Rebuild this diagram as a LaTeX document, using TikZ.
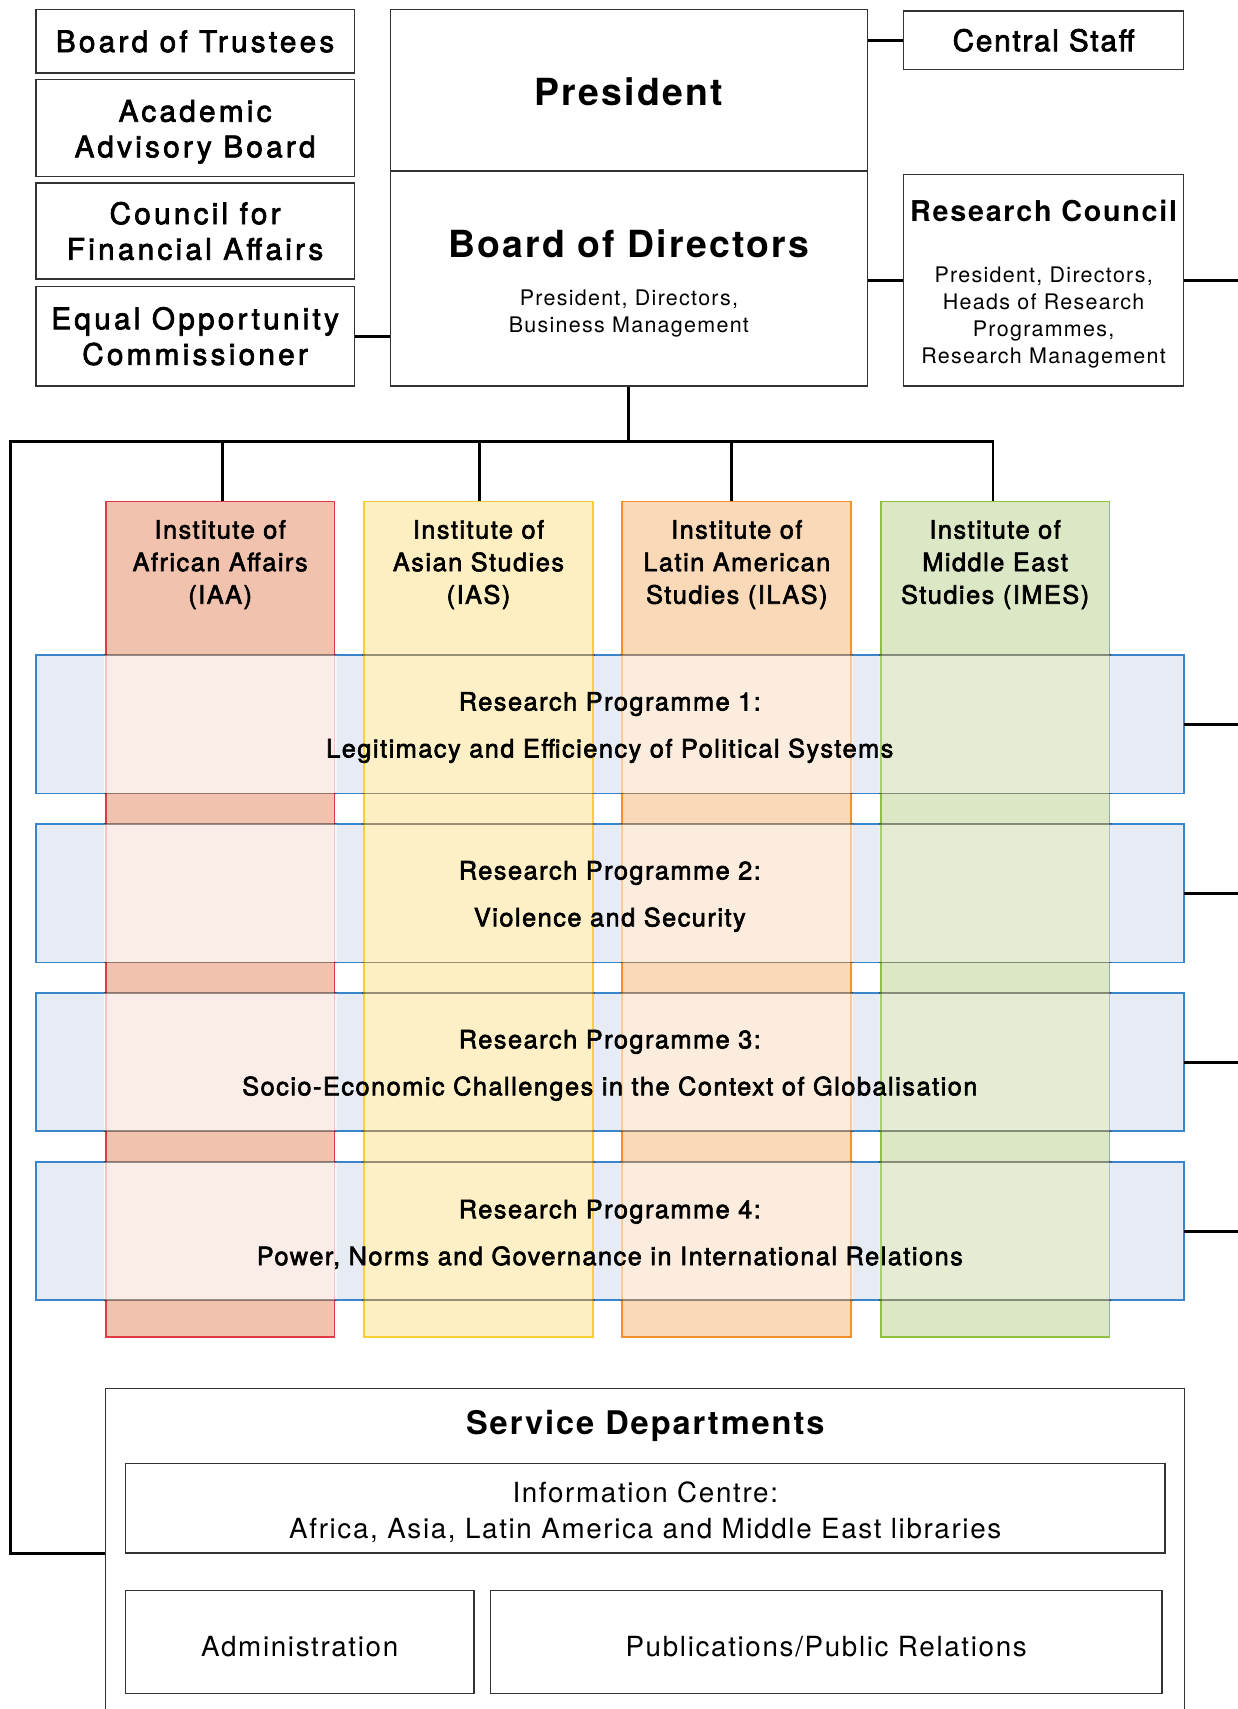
\documentclass[tikz,border=0pt]{standalone}
\usepackage{fontspec}
\setmainfont{TeX Gyre Heros}
\newfontfamily\medsp[FakeBold=2.5,LetterSpace=11]{TeX Gyre Heros}
\newfontfamily\medtext[FakeBold=2.5,LetterSpace=6]{TeX Gyre Heros}
\newfontfamily\titlesp[LetterSpace=6]{TeX Gyre Heros}
\newfontfamily\regsp[LetterSpace=6]{TeX Gyre Heros}

\definecolor{iaafill}{HTML}{F1C2AD}  \definecolor{iaaline}{HTML}{E23A45}
\definecolor{iasfill}{HTML}{FEEFC2}  \definecolor{iasline}{HTML}{F8CD35}
\definecolor{ilasfill}{HTML}{FAD9B9} \definecolor{ilasline}{HTML}{F2902F}
\definecolor{imesfill}{HTML}{DCE7C5} \definecolor{imesline}{HTML}{8DC043}
\definecolor{rpfill}{HTML}{E6EBF4}   \definecolor{rpline}{HTML}{3A86CC}
\definecolor{boxline}{HTML}{333333}

\begin{document}
\begin{tikzpicture}[
    box/.style={draw=boxline, line width=0.7pt, fill=white, inner sep=0pt, align=center},
    sidebox/.style={box, minimum width=5.84cm, font=\medsp\fontsize{15.5}{18.6}\selectfont},
    conn/.style={line width=1.5pt},
    inst/.style={line width=0.9pt, minimum width=4.2cm, minimum height=15.34cm, inner sep=0pt, outer sep=0pt},
    insttext/.style={align=center, font=\medtext\fontsize{13.2}{17}\selectfont},
    rpbase/.style={fill=rpfill, draw=rpline, line width=0.9pt, minimum width=21.06cm, minimum height=2.54cm,
        inner sep=0pt, outer sep=0pt},
    rptext/.style={align=center, font=\medtext\fontsize{13.2}{24.5}\selectfont},
    bigtitle/.style={font=\titlesp\bfseries\fontsize{19.5}{23}\selectfont},
    smalltext/.style={align=center, font=\regsp\fontsize{11.2}{14}\selectfont},
    depttext/.style={align=center, font=\regsp\fontsize{14.5}{18.8}\selectfont},
    deptbox/.style={box, text height=15pt, depttext},
]
    \useasboundingbox (0,0) rectangle (22.7,-31.36);
    \coordinate (rightedge) at (23.2,0);
    \coordinate (bus) at (0.2,-8.1);

    % boards on the left
    \node [sidebox, minimum height=1.16cm] (trustees)  at (3.58,-0.76) {Board of Trustees};
    \node [sidebox, minimum height=1.78cm] (academic)  at (3.58,-2.35) {};
    \node [font=\medsp\fontsize{15.5}{18.6}\selectfont, align=center] (academic-t) at ([yshift=-0.07cm]academic) {Academic\\Advisory Board};
    \node [sidebox, minimum height=1.76cm] (financial) at (3.58,-4.24) {Council for\\Financial Affairs};
    \node [sidebox, minimum height=1.82cm] (equal)     at (3.58,-6.17) {Equal Opportunity\\Commissioner};

    % president and board of directors
    \node [box, minimum width=8.76cm, minimum height=2.96cm] (president) at (11.54,-1.66) {};
    \node [bigtitle] (president-t) at ([yshift=-0.02cm]president) {President};
    \node [box, minimum width=8.76cm, minimum height=3.94cm] (directors) at (11.54,-5.11) {};
    \node [bigtitle] (directors-t) at (11.54,-4.48) {Board of Directors};
    \node [smalltext] (directors-s) at (11.54,-5.75) {President, Directors,\\Business Management};

    % right column
    \node [box, minimum width=5.14cm, minimum height=1.08cm,
        font=\medsp\addfontfeature{LetterSpace=6}\fontsize{15.5}{18.6}\selectfont] (staff) at (19.15,-0.74) {Central Staff};
    \node [box, minimum width=5.14cm, minimum height=3.88cm] (rcouncil) at (19.15,-5.14) {};
    \node [font=\titlesp\bfseries\fontsize{15}{18}\selectfont] (rcouncil-t) at (19.15,-3.88) {Research Council};
    \node [smalltext] (rcouncil-s) at (19.15,-5.83) {President, Directors,\\Heads of Research\\Programmes,\\Research Management};

    \draw [conn] (staff.west) -- (staff.west -| president.east);
    \draw [conn] (rcouncil.west -| directors.east) -- (rcouncil.west);
    \draw [conn] (rcouncil.east) -- (rcouncil.east -| rightedge);
    \draw [conn] (equal.east) -- (equal.east -| directors.west);

    % research programmes
    \foreach \i/\y in {1/-13.29,2/-16.39,3/-19.49,4/-22.59}{%
        \node [rpbase] (rp\i) at (11.19,\y) {};
        \draw [conn] (rp\i.east) -- (rp\i.east -| rightedge);
    }

    % institutes
    \foreach \n/\x/\txt in {iaa/4.04/{Institute of\\African Affairs\\(IAA)},
                            ias/8.78/{Institute of\\Asian Studies\\(IAS)},
                            ilas/13.52/{Institute of\\Latin American\\Studies (ILAS)},
                            imes/18.26/{Institute of\\Middle East\\Studies (IMES)}}{%
        \node [inst, fill=\n fill, draw=\n line] (\n) at (\x,-16.87) {};
        \node [insttext] (\n-t) at ([yshift=-1.16cm]\n.north) {\txt};
    }

    % programmes seen through the institutes
    \foreach \n/\w in {iaa/0.7,ias/0.08,ilas/0.52,imes/0.25}{%
        \begin{scope}
            \clip ([xshift=-1pt]\n.south west) rectangle ([xshift=1pt]\n.north east);
            \foreach \i in {1,...,4}{%
                \path [fill=white, fill opacity=\w, draw=black, draw opacity=0.4, line width=0.9pt]
                    (rp\i.south west) rectangle (rp\i.north east);
            }
        \end{scope}
    }

    \foreach \i/\txt in {1/Legitimacy and Efficiency of Political Systems,
                         2/Violence and Security,
                         3/Socio-Economic Challenges in the Context of Globalisation,
                         4/{Power, Norms and Governance in International Relations}}{%
        \node [rptext] (rp\i-t) at ([yshift=-0.06cm]rp\i) {Research Programme \i:\\\txt};
    }

    % service departments
    \node [box, minimum width=19.8cm, minimum height=6.04cm] (svc) at (11.84,-28.5) {};
    \node [font=\titlesp\bfseries\fontsize{17}{20}\selectfont] (svc-t) at (11.84,-26.16) {Service Departments};
    \node [box, minimum width=19.08cm, minimum height=1.64cm] (info) at (11.84,-27.68) {};
    \node [depttext] (info-t) at ([yshift=-0.06cm]info) {Information Centre:\\Africa, Asia, Latin America and Middle East libraries};
    \node [deptbox, minimum width=6.4cm, minimum height=1.9cm] (admin) at (5.5,-30.13) {Administration};
    \node [deptbox, minimum width=12.32cm, minimum height=1.9cm] (pubs) at (15.16,-30.13) {Publications/Public Relations};

    % connections to the institutes
    \draw [conn] (directors.south) -- (directors.south |- bus);
    \foreach \n/\dx in {iaa/0.04,ias/0.02,ilas/-0.1}{%
        \draw [conn] ([xshift=\dx cm]\n.north) -- ([xshift=\dx cm]\n.north |- bus);
    }
    \draw [conn] ([xshift=-0.04cm]imes.north) |- (bus) |- (svc.west);

\end{tikzpicture}
\end{document}
